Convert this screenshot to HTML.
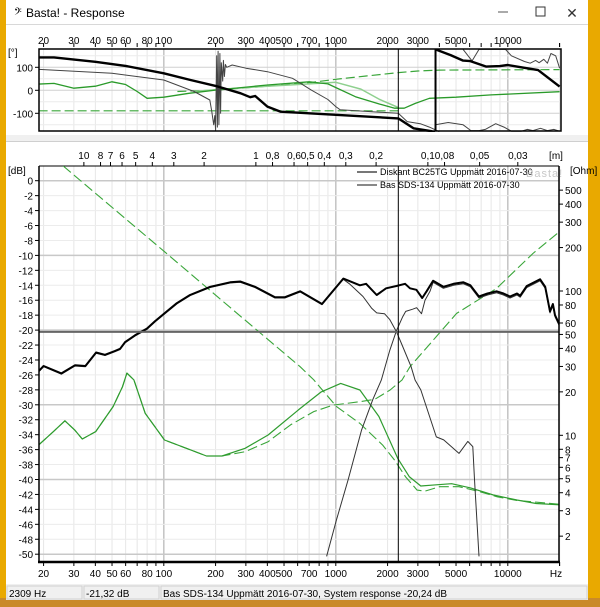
<!DOCTYPE html>
<html><head><meta charset="utf-8"><style>
html,body{margin:0;padding:0;width:600px;height:607px;overflow:hidden;background:#e8a800;}
svg{display:block;font-family:"Liberation Sans",sans-serif;}
</style></head><body>
<svg id="root" width="600" height="607" viewBox="0 0 600 607" xmlns="http://www.w3.org/2000/svg">
<defs>
<clipPath id="clipTop"><rect x="39" y="49" width="522" height="83"/></clipPath>
<clipPath id="clipBot"><rect x="39" y="166" width="520" height="395"/></clipPath>
</defs>
<rect x="0" y="0" width="600" height="607" fill="#e9a900"/>
<rect x="0" y="598" width="600" height="9" fill="#c98a2a"/>
<rect x="6" y="0" width="582" height="600" fill="#ffffff"/>
<g>
<text x="14" y="17" font-size="12" fill="#000">𝄢</text>
<text x="26" y="17" font-size="12" fill="#000">Basta! - Response</text>
<line x1="498" y1="12" x2="508" y2="12" stroke="#555"/>
<rect x="536" y="7" width="9" height="9" fill="none" stroke="#333"/>
<text x="572" y="18" font-size="14" fill="#333" text-anchor="middle">✕</text>
</g>
<line x1="6" y1="24.5" x2="588" y2="24.5" stroke="#d8d8d8"/>
<rect x="6" y="135" width="582" height="6" fill="#f0f0f0"/>
<line x1="6" y1="141.5" x2="588" y2="141.5" stroke="#cfcfcf"/>
<g id="topChart"></g>
<g id="botChart"></g>
<g>
<rect x="6" y="584" width="582" height="16" fill="#f0f0f0"/>
<rect x="7" y="586" width="75" height="13" fill="none" stroke="#d0d0d0"/>
<rect x="84" y="586" width="75" height="13" fill="none" stroke="#d0d0d0"/>
<rect x="161" y="586" width="426" height="13" fill="none" stroke="#d0d0d0"/>
<text x="9" y="597" font-size="10" fill="#000">2309 Hz</text>
<text x="86" y="597" font-size="10" fill="#000">-21,32 dB</text>
<text x="163" y="597" font-size="10" fill="#000">Bas SDS-134 Uppmätt 2016-07-30, System response -20,24 dB</text>
</g>
</svg>
<script>
// ---------- data ----------
const freqTickLabels = [20,30,40,50,60,80,100,200,300,400,500,700,1000,2000,3000,5000,10000];
const distTickLabels = [10,8,7,6,5,4,3,2,1,0.8,0.6,0.5,0.4,0.3,0.2,0.1,0.08,0.05,0.03];
const dbTicks = [0,-2,-4,-6,-8,-10,-12,-14,-16,-18,-20,-22,-24,-26,-28,-30,-32,-34,-36,-38,-40,-42,-44,-46,-48,-50];
const ohmTicks = [500,400,300,200,100,80,60,50,40,30,20,10,8,7,6,5,4,3,2];
const phaseTicks = [100,0,-100];
const cursorFreq = 2309;
const cursorDb = -20.24;
const markerFreq2 = 3800;

// system response (dB)
const sysF = [18.7,20,25.4,30.5,35,40.4,45.5,51.9,55.7,59.6,68,75.7,79.8,89,101.6,119,142,186,243,278,339,443,506,620,831,1106,1380,1500,1730,1960,2250,2530,2700,2940,3180,3370,3680,4220,4840,5520,6060,6790,7620,8610,9440,10300,11300,11800,12900,15400,16500,17600,18300,18800,20000];
const sysDb = [-25.5,-24.8,-25.8,-24.7,-24.8,-23.0,-23.3,-22.8,-22.5,-21.6,-20.7,-20.1,-19.8,-18.8,-17.7,-16.4,-15.3,-14.2,-13.6,-13.5,-14.2,-15.6,-15.6,-14.8,-16.5,-13.1,-14.0,-13.8,-15.3,-14.4,-14.1,-13.8,-14.4,-14.6,-15.7,-14.8,-13.4,-14.2,-13.8,-13.6,-14.0,-15.5,-15.1,-14.8,-15.1,-15.5,-15.1,-15.4,-14.1,-13.2,-14.2,-17.5,-16.5,-18.0,-19.3];
// bass driver (dB)
const bassF = [18.7,20,25.4,30.5,35,40.4,45.5,51.9,55.7,59.6,68,75.7,79.8,89,101.6,119,142,186,243,278,339,443,506,620,831,1106,1200,1440,1620,1730,1920,2060,2250,2450,2740,2890,3120,3840,4240,5200,5850,6260,6400,6800];
const bassDb = [-25.6,-24.9,-25.9,-24.8,-24.9,-23.1,-23.4,-22.9,-22.6,-21.7,-20.8,-20.2,-19.9,-18.9,-17.8,-16.5,-15.4,-14.3,-13.7,-13.6,-14.3,-15.7,-15.7,-14.9,-16.6,-13.2,-13.8,-15.5,-17.1,-17.7,-17.8,-18.6,-20.2,-22.2,-24.9,-26.7,-28.0,-34.3,-34.7,-36.5,-34.9,-35.6,-40.0,-50.3];
// tweeter (dB)
const twF = [884,1010,1180,1410,1640,1840,2060,2250,2450,2550,2800,2950,3150,3300,3530,3680,4220,4840,5520,6060,6790,7620,8610,9440,10300,11300,11800,12900,15400,16500,17600,18300,18800,20000];
const twDb = [-50.3,-45.4,-40.0,-33.4,-29.3,-26.7,-22.7,-20.1,-18.2,-17.5,-17.2,-17.0,-17.8,-16.0,-14.8,-13.6,-14.4,-14.0,-13.8,-14.2,-15.7,-15.3,-15.0,-15.3,-15.7,-15.3,-15.6,-14.3,-13.4,-14.4,-17.7,-16.7,-18.2,-19.5];
// impedance curves (ohm)
const zSolidF = [18.7,22.8,26.6,30.3,33.6,40.2,50.7,57.5,61,67,78,101,144,177,218,297,404,606,822,1068,1380,1780,2290,2670,3120,3840,4710,6080,8250,11300,14600,20000];
const zSolid = [8.57,10.6,12.6,10.9,9.42,10.6,15.8,21.7,27.0,24.2,14.2,9.28,7.9,7.19,7.19,8.13,10.05,15.0,20.0,22.9,20.6,13.5,6.93,5.17,4.45,4.54,4.62,4.32,3.86,3.56,3.37,3.30];
const zBassF = [18.7,22.8,26.6,30.3,33.6,40.2,50.7,57.5,61,67,78,101,144,177,218,297,404,545,744,964,1380,1690,2070,2430,2700,5040,8600,14000,20000];
const zBass = [8.57,10.6,12.6,10.9,9.42,10.6,15.8,21.7,27.0,24.2,14.2,9.28,7.9,7.19,7.19,7.7,9.03,11.8,14.6,16.2,17.1,17.8,20.6,24.2,29.9,70,104,182,258];
const zTwF = [26,100,250,620,745,1010,1380,1870,2190,2540,2970,3290,4020,5200,6700,8690,11300,19700];
const zTw = [735,189,74.8,29.9,24.2,15.8,12.1,8.57,6.75,5.17,4.17,4.10,4.40,4.40,4.10,3.75,3.54,3.33];
// phase curves (deg)
const phSysF = [18.7,23,40,60,100,143,200,280,318,340,400,478,2309,2830,3600,3750];
const phSys = [143,143,124,106,74,45,19,-13,-30,-25,-71,-93,-122,-165,-178,-185];
const phSysHiF = [3800,4650,5500,6050,7500,9000,10000,12000,15000,20000];
const phSys2 = [178,153,129,127,103,105,110,100,88,16];
const phBassF = [18.7,50,100,150,185,190,195,198,200,203,205,207,209,212,214,216,220,222,225,228,232,250,300,400,560,720,900,1000,1060,2309,2600,3100,3500,4000];
const phBass = [91,74,45,-5,-42,-90,-150,-110,-175,150,-160,170,-150,160,-100,120,40,130,60,112,100,110,96,81,52,1,-40,-71,-85,-100,-136,-145,-160,-180];
const phTwF = [3800,4500,5500,6100,6800,7400,8500,9500,10500,12000,13000,14000,15500,17000,18500,20000];
const phTw = [-150,-140,-150,-175,-175,-170,-145,-160,-178,-178,-170,-175,-165,-175,-170,-178];
const phTwHiF = [5500,6200,6800,9700,10500,12500,13500,14500,15200,16200,17000,17800,19000,20000];
const phTwHi = [178,128,178,178,150,125,118,130,120,135,118,160,150,96];
const phZF = [18.7,23,30,40,50,60,70,80,100,140,200,400,700,900,1300,1800,2200,2500,2900,3500,5000,8000,20000];
const phZ = [27,30,9,18,37,25,-5,-35,-30,-13,1,23,37,28,-28,-60,-78,-78,-57,-35,-30,-20,-6];
const phZ2F = [150,200,400,700,1000,1400,1800,2309];
const phZ2 = [-5,3,18,28,35,5,-40,-75];
const phDashLoF = [18.7,2309];
const phDashLo = [-89,-89];
const phDashHiF = [120,200,400,700,1000,1500,2309,3000,4000,20000];
const phDashHi = [-5,1,18,33,48,62,77,84,88,90];

// ---------- axes ----------
const NS='http://www.w3.org/2000/svg';
const XL=39, XR=560;
function X(f){return 163.8+172*Math.log10(f/100);}
function Yph(d){return 90.3-d*0.23;}
function Ydb(d){return 180.7-d*7.47;}
function Yz(o){return 291+(2-Math.log10(o))*144.3;}
function el(tag,attrs,parent){const e=document.createElementNS(NS,tag);for(const k in attrs)e.setAttribute(k,attrs[k]);parent.appendChild(e);return e;}
function txt(x,y,s,attrs,parent){const t=el('text',Object.assign({x:x,y:y,'font-size':10,fill:'#000'},attrs||{}),parent);t.textContent=s;return t;}
function poly(fs,vs,yf,attrs,parent){let d='';for(let i=0;i<fs.length;i++){d+=(i?'L':'M')+X(fs[i]).toFixed(1)+','+yf(vs[i]).toFixed(1);}return el('path',Object.assign({d:d,fill:'none','stroke-linejoin':'round'},attrs),parent);}

const topG=document.getElementById('topChart');
const botG=document.getElementById('botChart');

function vgrid(parent,y1,y2){
  for(let dec=10;dec<=10000;dec*=10){for(let m=1;m<10;m++){const f=dec*m;if(f<19||f>20000)continue;const major=(m===1);
    const l=el('line',{x1:X(f),x2:X(f),y1:y1,y2:y2,stroke:major?'#c4c4c4':'#e6e6e6','stroke-width':major?1.5:1},parent);
    
    }}
  el('line',{x1:X(20000),x2:X(20000),y1:y1,y2:y2,stroke:'#e6e6e6'},parent);
}
function freqTicks(parent,yLine,dir,yText){
  for(let dec=10;dec<=10000;dec*=10){for(let m=1;m<10;m++){const f=dec*m;if(f<19||f>20000)continue;
    el('line',{x1:X(f),x2:X(f),y1:yLine,y2:yLine+dir*4,stroke:'#000'},parent);}}
  el('line',{x1:X(20000),x2:X(20000),y1:yLine,y2:yLine+dir*4,stroke:'#000'},parent);
  freqTickLabels.forEach(f=>{const t=txt(X(f),yText,String(f),{'text-anchor':'middle'},parent);
    
    });
}

// ---- top phase chart ----
vgrid(topG,49,131);
phaseTicks.forEach(d=>{el('line',{x1:XL,x2:XR,y1:Yph(d),y2:Yph(d),stroke:'#d0d0d0'},topG);
  const t=txt(33,Yph(d)+4,String(d),{'text-anchor':'end'},topG);
  
  
  el('line',{x1:35,x2:XL,y1:Yph(d),y2:Yph(d),stroke:'#000'},topG);});
[50,-50,150,-150].forEach(d=>el('line',{x1:XL,x2:XR,y1:Yph(d),y2:Yph(d),stroke:'#ececec'},topG));
txt(8,56,'[°]',{},topG);
freqTicks(topG,47,-1,44);
const tc=el('g',{'clip-path':'url(#clipTop)'},topG);
let s;
s=poly(phDashLoF,phDashLo,Yph,{stroke:'#3aa63a','stroke-width':1.2,'stroke-dasharray':'9,4'},tc);

s=poly(phDashHiF,phDashHi,Yph,{stroke:'#3aa63a','stroke-width':1.2,'stroke-dasharray':'9,4'},tc);

s=poly(phZ2F,phZ2,Yph,{stroke:'#8fd08f','stroke-width':1.5},tc);

s=poly(phZF,phZ,Yph,{stroke:'#2a9a2a','stroke-width':1.3},tc);

s=poly(phBassF,phBass,Yph,{stroke:'#444','stroke-width':1},tc);

s=poly(phTwF,phTw,Yph,{stroke:'#444','stroke-width':1},tc);

s=poly(phTwHiF,phTwHi,Yph,{stroke:'#444','stroke-width':1},tc);

s=poly(phSysF,phSys,Yph,{stroke:'#000','stroke-width':2.4},tc);

s=poly(phSysHiF,phSys2,Yph,{stroke:'#000','stroke-width':2.4},tc);

el('line',{x1:X(cursorFreq),x2:X(cursorFreq),y1:49,y2:131,stroke:'#000','stroke-width':1},topG);
el('line',{x1:X(markerFreq2),x2:X(markerFreq2),y1:49,y2:131,stroke:'#000','stroke-width':2},topG);
el('rect',{x:XL,y:49,width:XR-XL+1,height:82,fill:'none',stroke:'#000','stroke-width':1.5},topG);

// ---- bottom chart ----
vgrid(botG,166,561);
dbTicks.forEach(d=>{const major=(d%10===0);
  el('line',{x1:XL,x2:559,y1:Ydb(d),y2:Ydb(d),stroke:major?'#c8c8c8':'#ececec','stroke-width':major?1.5:1},botG);
  el('line',{x1:35,x2:XL,y1:Ydb(d),y2:Ydb(d),stroke:'#000'},botG);
  const t=txt(33,Ydb(d)+4,String(d),{'text-anchor':'end'},botG);
  
  });
txt(8,174,'[dB]',{},botG);
ohmTicks.forEach(o=>{el('line',{x1:559,x2:563,y1:Yz(o),y2:Yz(o),stroke:'#000'},botG);
  const t=txt(565,Yz(o)+4,String(o),{},botG);
  
  });
txt(570,174,'[Ohm]',{},botG);
distTickLabels.forEach(m=>{const x=X(343/m);el('line',{x1:x,x2:x,y1:166,y2:162,stroke:'#000'},botG);
  const t=txt(x,159,String(m).replace('.',','),{'text-anchor':'middle'},botG);
  
  });
txt(556,159,'[m]',{'text-anchor':'middle'},botG);
el('line',{x1:XL,x2:559,y1:166,y2:166,stroke:'#000'},botG);
freqTicks(botG,562,1,577);
txt(556,577,'Hz',{'text-anchor':'middle'},botG);
const bc=el('g',{'clip-path':'url(#clipBot)'},botG);
s=poly(zTwF,zTw,Yz,{stroke:'#3aa63a','stroke-width':1.1,'stroke-dasharray':'10,4'},bc);

s=poly(zBassF,zBass,Yz,{stroke:'#3aa63a','stroke-width':1.1,'stroke-dasharray':'10,4'},bc);

s=poly(zSolidF,zSolid,Yz,{stroke:'#2f9c2f','stroke-width':1.2},bc);

s=poly(twF,twDb,Ydb,{stroke:'#333','stroke-width':1},bc);

s=poly(bassF,bassDb,Ydb,{stroke:'#333','stroke-width':1},bc);

s=poly(sysF,sysDb,Ydb,{stroke:'#000','stroke-width':2},bc);

el('line',{x1:XL,x2:559,y1:Ydb(cursorDb),y2:Ydb(cursorDb),stroke:'#666','stroke-width':2},botG);
el('line',{x1:X(cursorFreq),x2:X(cursorFreq),y1:166,y2:561,stroke:'#000','stroke-width':1},botG);
el('line',{x1:XL,x2:XL,y1:166,y2:562,stroke:'#000','stroke-width':1.5},botG);
el('line',{x1:559,x2:559,y1:166,y2:562,stroke:'#000','stroke-width':1.5},botG);
el('line',{x1:XL-1,x2:560,y1:562,y2:562,stroke:'#000','stroke-width':2.5},botG);
const lg=el('g',{},botG);


el('line',{x1:357,x2:377,y1:172,y2:172,stroke:'#777','stroke-width':2},lg);
txt(380,175,'Diskant BC25TG Uppmätt 2016-07-30',{'font-size':9},lg);
el('line',{x1:357,x2:377,y1:185,y2:185,stroke:'#111','stroke-width':1},lg);
txt(380,188,'Bas SDS-134 Uppmätt 2016-07-30',{'font-size':9},lg);
txt(526,177,'Basta!',{'font-size':11,fill:'#c8c8c8','letter-spacing':'1'},lg);
</script>
</body></html>
